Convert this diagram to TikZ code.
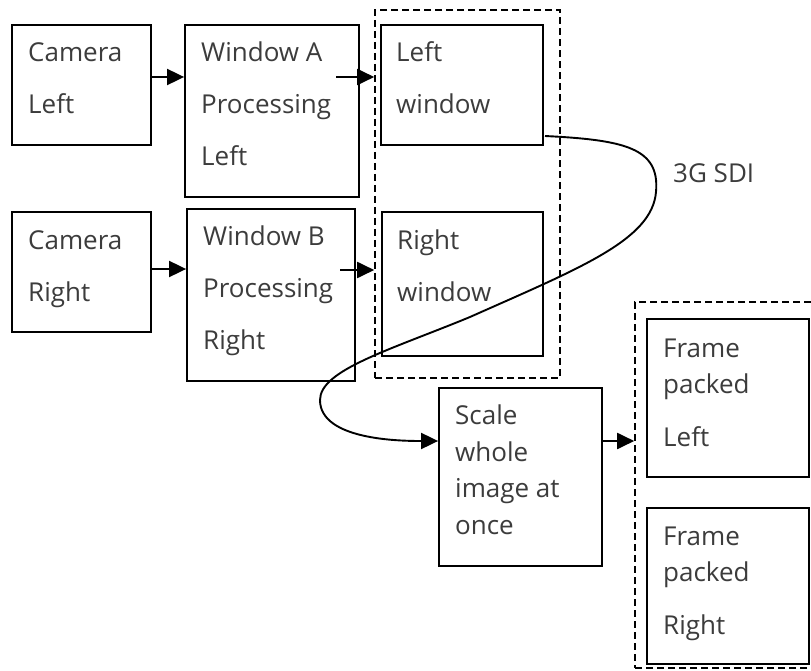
\documentclass[tikz,border=0pt]{standalone}
\usepackage{fontspec}
\setmainfont{Open Sans}
\usetikzlibrary{arrows.meta,calc}
\definecolor{txtc}{RGB}{60,60,60}
\begin{document}
\begin{tikzpicture}[x=1pt,y=-1pt,
 box/.style={draw=black,line width=1.8pt,inner sep=0pt},
 dbox/.style={draw=black,line width=1.6pt,dash pattern=on 7pt off 4pt,inner sep=0pt},
 txt/.style={anchor=base west,inner sep=0pt,text=txtc,align=left,font=\fontsize{26}{52}\selectfont},
 tight/.style={font=\fontsize{26}{36.5}\selectfont},
 arr/.style={line width=1.9pt,-{Triangle[length=17pt,width=16pt]}}]
\useasboundingbox (0,0) rectangle (811,671);
\fill[white] (0,0) rectangle (811,671);

% dashed groups
\node[dbox,minimum width=185pt,minimum height=368pt] (g1) at (467.5,194) {};
\node[dbox,minimum width=180pt,minimum height=366pt] (g2) at (725,485) {};

% boxes
\node[box,minimum width=139pt,minimum height=120pt] (CL) at (81.5,85) {};
\node[box,minimum width=174pt,minimum height=172pt] (WA) at (272,111) {};
\node[box,minimum width=139pt,minimum height=120pt] (CR) at (81.5,272) {};
\node[box,minimum width=168pt,minimum height=172pt] (WB) at (271,295) {};
\node[box,minimum width=162pt,minimum height=120pt] (LW) at (462,85) {};
\node[box,minimum width=161pt,minimum height=144pt] (RW) at (462.5,284) {};
\node[box,minimum width=163pt,minimum height=178pt] (SC) at (520.5,477) {};
\node[box,minimum width=162pt,minimum height=158pt] (FL) at (728,398) {};
\node[box,minimum width=162pt,minimum height=156pt] (FR) at (728,586) {};

% texts (anchored at the baseline of their last line)
\node[txt] (tCL) at (28,114) {Camera\\Left};
\node[txt] (tWA) at (201,166) {Window A\\Processing\\Left};
\node[txt] (tCR) at (28,301) {Camera\\Right};
\node[txt] (tWB) at (203,349) {Window B\\Processing\\Right};
\node[txt] (tLW) at (396,114) {Left\\window};
\node[txt] (tRW) at (397,301) {Right\\window};
\node[txt,tight] (tSC) at (455,534) {Scale\\whole\\image at\\once};
\node[txt,tight] (tFL) at (663,446) {Frame\\packed\\[16pt]Left};
\node[txt,tight] (tFR) at (663,634) {Frame\\packed\\[16pt]Right};
\node[txt] (sdi) at (673,183) {3G SDI};

% helper coordinates
\coordinate (y77) at (0,77);
\coordinate (y269) at (0,269);
\coordinate (y270) at (0,270);
\coordinate (y441) at (0,441);
\coordinate (a1) at (336,77);
\coordinate (a2) at (340,270);
\coordinate (c0) at (545,136);

% arrows
\draw[arr] (CL.east |- y77) -- (WA.west |- y77);
\draw[arr] (CR.east |- y269) -- (WB.west |- y269);
\draw[arr] (a1) -- (g1.west |- y77);
\draw[arr] (a2) -- (g1.west |- y270);
\draw[arr] (SC.east |- y441) -- (g2.west |- y441);

% 3G SDI cable
\draw[arr] (c0) .. controls (625,140) and (660,148) .. (656,192)
  .. controls (652,240) and (580,268) .. (470,317)
  .. controls (390,350) and (320,370) .. (320,400)
  .. controls (320,440) and (400,441) .. (SC.west |- y441);
\end{tikzpicture}
\end{document}
